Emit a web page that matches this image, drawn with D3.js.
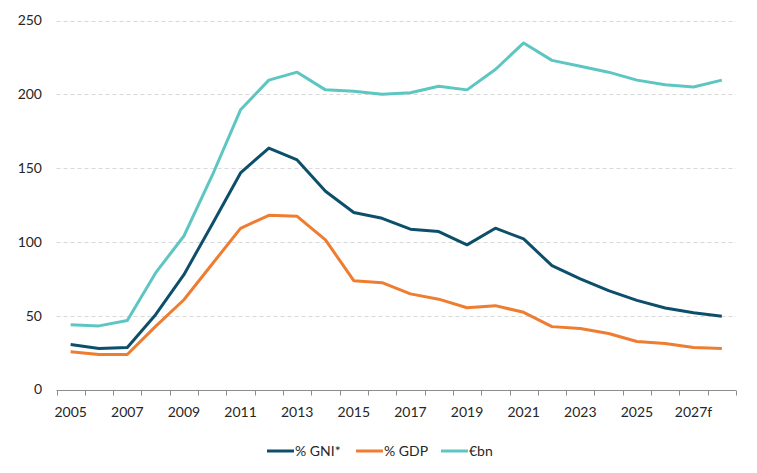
<!DOCTYPE html>
<html>
<head>
<meta charset="utf-8">
<script src="https://cdn.jsdelivr.net/npm/d3@7"></script>
<style>
  body { margin: 0; background: #fff; }
  text { font-family: Lato, "Open Sans", sans-serif; fill: #262626; }
</style>
</head>
<body>
<div id="chart"></div>
<script>
// years shown on the x axis (2027 and 2028 are forecasts)
var years = [2005, 2006, 2007, 2008, 2009, 2010, 2011, 2012, 2013, 2014, 2015, 2016,
             2017, 2018, 2019, 2020, 2021, 2022, 2023, 2024, 2025, 2026, 2027, 2028];
var tickLabels = ["2005", "2007", "2009", "2011", "2013", "2015", "2017", "2019",
                  "2021", "2023", "2025", "2027f"];
var yTicks = [0, 50, 100, 150, 200, 250];

var gni = [30.5, 27.8, 28.5, 50.7, 77.8, 112, 146.7, 163.6, 155.5, 134.3, 119.9, 116,
           108.6, 107, 98, 109.3, 102, 83.9, 75, 67, 60.4, 55.2, 52, 49.7];
var gdp = [25.5, 23.7, 23.7, 42.8, 60.8, 85, 109.2, 118, 117.3, 101.4, 73.7, 72.4,
           64.8, 61.2, 55.4, 56.8, 52.3, 42.6, 41.3, 37.9, 32.5, 31.2, 28.5, 27.8];
var eurbn = [43.8, 43.1, 46.7, 79, 104, 145, 189.5, 209.6, 215, 203, 202, 200,
             201, 205.5, 203, 216.8, 234.8, 223, 219, 215, 209.6, 206.4, 205, 209.6];

var seriesNames = ["% GNI*", "% GDP", "€bn"];
var colors = ["#0d4f6b", "#ee7d31", "#5ec6c2"];

var width = 757, height = 473;
var margin = {top: 20.5, right: 21, bottom: 83.5, left: 56.5};

var svg = d3.select("#chart").append("svg")
    .attr("width", width)
    .attr("height", height);

var x = d3.scaleBand()
    .domain(years)
    .range([margin.left, width - margin.right]);

var y = d3.scaleLinear()
    .domain([0, 250])
    .range([height - margin.bottom, margin.top]);

// gridlines
svg.append("g")
  .selectAll("line")
  .data(yTicks.slice(1))
  .enter().append("line")
    .attr("x1", margin.left)
    .attr("x2", width - margin.right)
    .attr("y1", function(d) { return Math.round(y(d)) + 0.5; })
    .attr("y2", function(d) { return Math.round(y(d)) + 0.5; })
    .attr("stroke", "#d9d9d9")
    .attr("stroke-dasharray", "4,3");

// y labels
svg.append("g")
  .selectAll("text")
  .data(yTicks)
  .enter().append("text")
    .attr("x", 42)
    .attr("y", function(d) { return y(d); })
    .attr("dy", "0.35em")
    .attr("text-anchor", "end")
    .style("font-size", "14px")
    .text(function(d) { return d; });

// x axis: ticks sit on category boundaries
var xAxis = svg.append("g")
    .attr("transform", "translate(0," + (Math.round(y(0)) + 0.5) + ")");

xAxis.append("line")
    .attr("x1", margin.left)
    .attr("x2", width - margin.right)
    .attr("stroke", "#8c8c8c");

var bounds = years.map(function(d) { return x(d); }).concat([x.range()[1]]);
xAxis.selectAll(".tick")
  .data(bounds)
  .enter().append("line")
    .attr("class", "tick")
    .attr("x1", function(d) { return Math.round(d) + 0.5; })
    .attr("x2", function(d) { return Math.round(d) + 0.5; })
    .attr("y1", 0)
    .attr("y2", 5)
    .attr("stroke", "#8c8c8c");

xAxis.selectAll(".lbl")
  .data(tickLabels)
  .enter().append("text")
    .attr("class", "lbl")
    .attr("x", function(d, i) { return x(years[i * 2]) + x.bandwidth() / 2; })
    .attr("y", 26)
    .attr("text-anchor", "middle")
    .style("font-size", "14px")
    .text(function(d) { return d; });

// lines
var line = d3.line()
    .x(function(d, i) { return x(years[i]) + x.bandwidth() / 2; })
    .y(function(d) { return y(d); });

[gdp, eurbn, gni].forEach(function(s) {
  var idx = [gni, gdp, eurbn].indexOf(s);
  svg.append("path")
      .datum(s)
      .attr("fill", "none")
      .attr("stroke", colors[idx])
      .attr("stroke-width", 3)
      .attr("stroke-linejoin", "round")
      .attr("d", line);
});

// legend
var legendX = [267, 356, 441];
var legend = svg.append("g").attr("transform", "translate(0,451)");
seriesNames.forEach(function(name, i) {
  legend.append("line")
      .attr("x1", legendX[i])
      .attr("x2", legendX[i] + 27)
      .attr("stroke", colors[i])
      .attr("stroke-width", 3);
  legend.append("text")
      .attr("x", legendX[i] + 28)
      .attr("dy", "0.35em")
      .style("font-size", "14px")
      .text(name);
});
</script>
</body>
</html>
